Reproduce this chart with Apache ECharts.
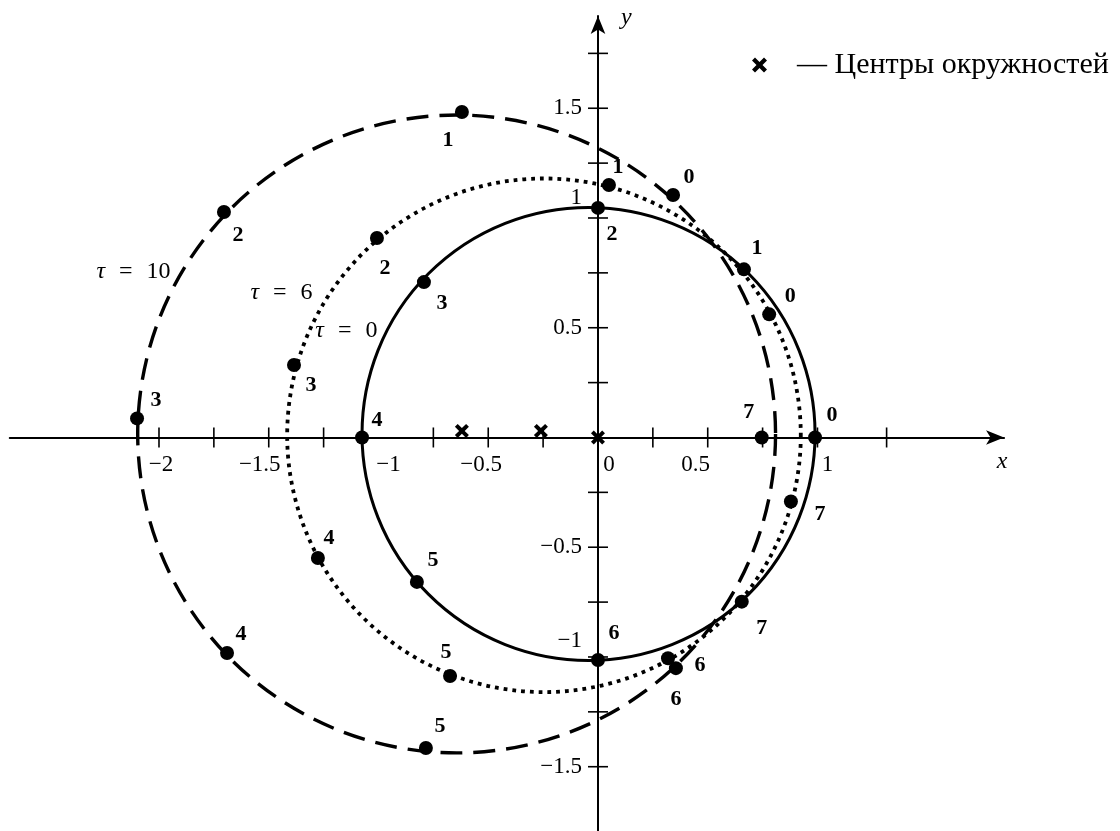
<!doctype html>
<html>
<head>
<meta charset="utf-8">
<title>Окружности</title>
<script src="https://cdn.jsdelivr.net/npm/echarts@6/dist/echarts.min.js"></script>
<style type="text/css">
  html, body {margin:0; padding:0; background:#fff;}
  #chart {width:1120px; height:831px;}
</style>
</head>
<body>
<div id="chart"></div>
<script type="text/javascript">
// окружности: [cx, cy, r]
var circleTau0 = [-0.043, 0.016, 1.032];
var circleTau6 = [-0.246, 0.010, 1.170];
var circleTau10 = [-0.644, 0.016, 1.453];
var circleNames = ['τ = 0', 'τ = 6', 'τ = 10'];
var notePoints = [[-1.146, 0.485], [-1.442, 0.658], [-2.116, 0.754]];

// точки 0..7 на каждой окружности
var pointLabels = ['0', '1', '2', '3', '4', '5', '6', '7'];
var pointsTau0 = [[0.989, 0], [0.665, 0.766], [0, 1.046], [-0.793, 0.708], [-1.075, 0], [-0.825, -0.658], [0, -1.014], [0.655, -0.748]];
var pointsTau6 = [[0.780, 0.561], [0.050, 1.150], [-1.007, 0.909], [-1.385, 0.330], [-1.276, -0.549], [-0.674, -1.087], [0.319, -1.006], [0.879, -0.292]];
var pointsTau10 = [[0.342, 1.105], [-0.620, 1.483], [-1.704, 1.027], [-2.100, 0.087], [-1.690, -0.982], [-0.784, -1.415], [0.355, -1.051], [0.746, 0]];
var centers = [[-0.62, 0.03], [-0.26, 0.03], [0, 0]];
var centersName = '— Центры окружностей';

var xTicks = [-2, -1.75, -1.5, -1.25, -0.75, -0.5, -0.25, 0.25, 0.5, 0.75, 1, 1.315];
var yTicks = [1.75, 1.5, 1.25, 1, 0.75, 0.5, 0.25, -0.25, -0.5, -0.75, -1, -1.25, -1.5];
var xLabels = [-2, -1.5, -1, -0.5, 0, 0.5, 1];
var yLabels = [1.5, 1, 0.5, -0.5, -1, -1.5];

// сдвиги подписей (px)
var labelOffset0 = [[17, -22], [13, -21], [14, 26], [18, 21], [15, -17], [16, -22], [16, -27], [20, 27]];
var labelOffset6 = [[21, -18], [9, -18], [8, 30], [17, 20], [11, -20], [-4, -24], [32, 7], [29, 13]];
var labelOffset10 = [[16, -18], [-14, 28], [14, 23], [19, -18], [14, -19], [14, -22], [0, 31], [-13, -25]];
var xLabelShift = {'-2': 2, '-1.5': -9, '-1': 10, '-0.5': -7, '0': 11, '0.5': -12, '1': 10};
var yLabelShift = {'1': 20, '-1': 16};

var FONT = 'Liberation Serif';
var crossPath = 'path://M2,0 L5,3 L8,0 L10,2 L7,5 L10,8 L8,10 L5,7 L2,10 L0,8 L3,5 L0,2 Z';

// сетка: начало координат в (598, 437.5), 219.5 px на единицу
var X_MIN = -2.68, X_MAX = 1.85, Y_MIN = -1.8, Y_MAX = 1.92;
var GRID_LEFT = 9.74, GRID_TOP = 16.06, GRID_W = 994.3, GRID_H = 816.5;
var X_AXIS_OFFSET = -(GRID_TOP + GRID_H - 437.5);
var Y_AXIS_OFFSET = -(598 - GRID_LEFT);

function fmtNum(v) { return String(v).replace('-', '\u2212'); }

var xRich = {}, yRich = {};
xLabels.forEach(function (v, i) {
	var s = xLabelShift[String(v)] || 0;
	xRich['x' + i] = {fontFamily: FONT, fontSize: 23, color: '#000',
		padding: s >= 0 ? [0, 0, 0, 2 * s] : [0, -2 * s, 0, 0]};
});
yLabels.forEach(function (v, i) {
	var s = yLabelShift[String(v)] || 0;
	yRich['y' + i] = {fontFamily: FONT, fontSize: 23, color: '#000', padding: [0, 0, 2 * s, 0]};
});

function circleSeries(c, dash, width) {
	return {
		type: 'custom',
		silent: true,
		z: 1,
		data: [c],
		encode: {x: 0, y: 1},
		renderItem: function (params, api) {
			var p = api.coord([api.value(0), api.value(1)]);
			var r = api.size([api.value(2), 0])[0];
			return {
				type: 'circle',
				shape: {cx: p[0], cy: p[1], r: r},
				style: {fill: 'none', stroke: '#000', lineWidth: width, lineDash: dash, lineCap: 'butt'}
			};
		}
	};
}

function pointSeries(pts, offs) {
	return {
		type: 'scatter',
		symbol: 'circle',
		symbolSize: 14,
		z: 4,
		itemStyle: {color: '#000', opacity: 1},
		data: pts.map(function (p, i) {
			return {value: p, name: pointLabels[i], label: {offset: offs[i]}};
		}),
		label: {
			show: true, position: 'inside', formatter: '{b}',
			fontFamily: FONT, fontSize: 22, fontWeight: 'bold', color: '#000'
		}
	};
}

function tickSeries(vals, horizontal) {
	return {
		type: 'custom',
		silent: true,
		z: 2,
		data: vals.map(function (v) { return horizontal ? [0, v] : [v, 0]; }),
		encode: {x: 0, y: 1},
		renderItem: function (params, api) {
			var p = api.coord([api.value(0), api.value(1)]);
			return {
				type: 'line',
				shape: horizontal ? {x1: p[0] - 10, y1: p[1], x2: p[0] + 10, y2: p[1]}
					: {x1: p[0], y1: p[1] - 10, x2: p[0], y2: p[1] + 10},
				style: {stroke: '#000', lineWidth: 1.6}
			};
		}
	};
}

var chart = echarts.init(document.getElementById('chart'));
var option = {
	animation: false,
	backgroundColor: '#fff',
	grid: {left: GRID_LEFT, top: GRID_TOP, width: GRID_W, height: GRID_H,
		containLabel: false, outerBoundsMode: 'none'},
	legend: {
		data: [{name: centersName, icon: crossPath}],
		left: 752, top: 50, padding: 0,
		itemWidth: 15, itemHeight: 15,
		formatter: function (n) { return '{t|' + n + '}'; },
		textStyle: {
			color: '#000',
			rich: {t: {fontFamily: FONT, fontSize: 30, color: '#000', padding: [0, 0, 0, 25]}}
		}
	},
	xAxis: {
		type: 'value', min: X_MIN, max: X_MAX,
		position: 'bottom', offset: X_AXIS_OFFSET,
		name: 'x', nameLocation: 'end', nameGap: -2,
		nameTextStyle: {fontFamily: FONT, fontSize: 24, fontStyle: 'italic', color: '#000',
			align: 'center', verticalAlign: 'top', padding: [12, 0, 0, 0]},
		axisLine: {onZero: false, symbol: ['none', 'arrow'], symbolSize: [11, 18],
			lineStyle: {color: '#000', width: 2}},
		axisTick: {show: false},
		splitLine: {show: false},
		axisLabel: {
			customValues: xLabels, margin: 16,
			fontFamily: FONT, fontSize: 23, color: '#000',
			formatter: function (v) { return '{x' + xLabels.indexOf(v) + '|' + fmtNum(v) + '}'; },
			rich: xRich
		}
	},
	yAxis: {
		type: 'value', min: Y_MIN, max: Y_MAX,
		position: 'left', offset: Y_AXIS_OFFSET,
		name: 'y', nameLocation: 'end', nameGap: -2,
		nameTextStyle: {fontFamily: FONT, fontSize: 24, fontStyle: 'italic', color: '#000',
			align: 'left', verticalAlign: 'middle', padding: [0, 0, 0, 23]},
		axisLine: {onZero: false, symbol: ['none', 'arrow'], symbolSize: [11, 18],
			lineStyle: {color: '#000', width: 2}},
		axisTick: {show: false},
		splitLine: {show: false},
		axisLabel: {
			customValues: yLabels, margin: 16,
			fontFamily: FONT, fontSize: 23, color: '#000',
			formatter: function (v) { return '{y' + yLabels.indexOf(v) + '|' + fmtNum(v) + '}'; },
			rich: yRich
		}
	},
	series: [
		circleSeries(circleTau0, null, 3),
		circleSeries(circleTau6, [3.8, 5], 3.8),
		circleSeries(circleTau10, [22, 11], 3.4),
		tickSeries(xTicks, false),
		tickSeries(yTicks, true),
		pointSeries(pointsTau0, labelOffset0),
		pointSeries(pointsTau6, labelOffset6),
		pointSeries(pointsTau10, labelOffset10),
		{
			type: 'scatter',
			name: centersName,
			symbol: crossPath,
			symbolSize: 14,
			z: 5,
			itemStyle: {color: '#000', opacity: 1},
			data: centers
		},
		{
			type: 'scatter',
			symbolSize: 1,
			silent: true,
			itemStyle: {color: 'rgba(0,0,0,0)', opacity: 1},
			data: notePoints.map(function (p, i) { return {value: p, name: circleNames[i]}; }),
			label: {
				show: true, position: 'inside', opacity: 1,
				fontFamily: FONT, fontSize: 24, color: '#000',
				formatter: function (p) {
					return p.name.replace('τ', '{i|τ}').replace(/ /g, '\u2002\u200A');
				},
				rich: {i: {fontFamily: FONT, fontSize: 24, fontStyle: 'italic', color: '#000'}}
			}
		}
	]
};
chart.setOption(option);
</script>
</body>
</html>
